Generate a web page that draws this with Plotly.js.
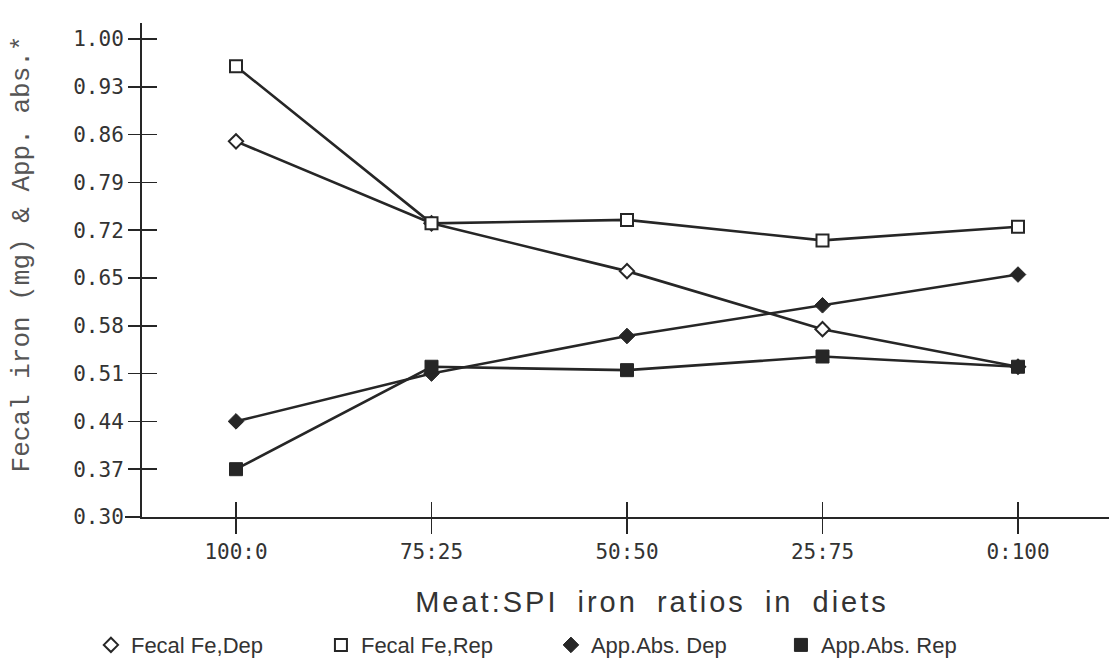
<!DOCTYPE html>
<html><head><meta charset="utf-8">
<script src="https://cdn.plot.ly/plotly-3.0.1.min.js"></script>
<style>html,body{margin:0;padding:0;background:#fff;}#chart{width:1109px;height:663px;}</style>
</head><body><div id="chart"></div>
<script>
// Categories (x axis)
const ratios = ['100:0', '75:25', '50:50', '25:75', '0:100'];
// Series values
const fecalDep  = [0.85, 0.73, 0.66, 0.575, 0.52];
const fecalRep  = [0.96, 0.73, 0.735, 0.705, 0.725];
const appAbsDep = [0.44, 0.51, 0.565, 0.61, 0.655];
const appAbsRep = [0.37, 0.52, 0.515, 0.535, 0.52];
const seriesNames = ['Fecal Fe,Dep', 'Fecal Fe,Rep', 'App.Abs. Dep', 'App.Abs. Rep'];
// Y tick labels
const yTickVals = [0.30, 0.37, 0.44, 0.51, 0.58, 0.65, 0.72, 0.79, 0.86, 0.93, 1.00];
const yTickText = ['0.30', '0.37', '0.44', '0.51', '0.58', '0.65', '0.72', '0.79', '0.86', '0.93', '1.00'];
const xTitle = 'Meat:SPI iron ratios in diets';
const yTitle = 'Fecal iron (mg) & App. abs.*';

const ink = '#262626';
const seriesData = [fecalDep, fecalRep, appAbsDep, appAbsRep];
const markerStyles = [
  {symbol: 'diamond', size: 11, color: '#ffffff', line: {color: ink, width: 2}},
  {symbol: 'square', size: 12, color: '#ffffff', line: {color: ink, width: 2}},
  {symbol: 'diamond', size: 12, color: ink, line: {color: ink, width: 1}},
  {symbol: 'square', size: 13, color: ink, line: {color: ink, width: 1}}
];

const traces = [];
seriesData.forEach((vals, i) => {
  traces.push({
    x: ratios, y: vals, type: 'scatter', mode: 'lines',
    line: {color: ink, width: 2.6}, showlegend: false, hoverinfo: 'skip',
    xaxis: 'x', yaxis: 'y'
  });
});
seriesData.forEach((vals, i) => {
  traces.push({
    x: ratios, y: vals, type: 'scatter', mode: 'markers', name: seriesNames[i],
    marker: markerStyles[i], xaxis: 'x2', yaxis: 'y2'
  });
});

const W = 1109, H = 663;
const mL = 142, mR = 0, mT = 23, mB = 146;
const plotW = W - mL - mR;
const xRange = [-0.4808, 4.4655];
const yRange = [0.30, 1.0233];

const layout = {
  width: W, height: H,
  margin: {l: mL, r: mR, t: mT, b: mB, pad: 0, autoexpand: false},
  paper_bgcolor: '#ffffff', plot_bgcolor: '#ffffff',
  showlegend: true,
  xaxis: {
    type: 'category', categoryorder: 'array', categoryarray: ratios,
    range: xRange, domain: [0, 1], anchor: 'y',
    showline: true, linecolor: ink, linewidth: 2,
    ticks: 'outside', ticklen: 15, tickwidth: 1.6, tickcolor: ink,
    showgrid: false, zeroline: false,
    tickfont: {family: 'DejaVu Sans Mono', size: 21, color: '#333333'},
    ticklabelstandoff: 0,
    title: {text: xTitle, font: {family: 'Liberation Sans', size: 29, color: '#333333'}, standoff: 28}
  },
  yaxis: {
    range: yRange, anchor: 'x',
    tickmode: 'array', tickvals: yTickVals, ticktext: yTickText,
    showline: true, linecolor: ink, linewidth: 2,
    ticks: 'outside', ticklen: 12, tickwidth: 1.6, tickcolor: ink,
    showgrid: false, zeroline: false,
    tickfont: {family: 'DejaVu Sans Mono', size: 21, color: '#333333'},
    title: {text: yTitle, font: {family: 'Liberation Mono', size: 26, color: '#555555'}, standoff: 36}
  },
  xaxis2: {
    type: 'category', categoryorder: 'array', categoryarray: ratios,
    range: xRange, overlaying: 'x', anchor: 'y2', side: 'bottom',
    showline: false, showticklabels: false,
    ticks: 'inside', ticklen: 15, tickwidth: 1.6, tickcolor: ink,
    showgrid: false, zeroline: false
  },
  yaxis2: {
    range: yRange, overlaying: 'y', anchor: 'x2', side: 'left',
    tickmode: 'array', tickvals: yTickVals,
    showline: false, showticklabels: false,
    ticks: 'inside', ticklen: 15, tickwidth: 1.6, tickcolor: ink,
    showgrid: false, zeroline: false
  },
  shapes: [{
    type: 'line', xref: 'paper', yref: 'paper',
    x0: -17 / plotW, x1: 0, y0: 0, y1: 0,
    line: {color: ink, width: 2}
  }],
  legend: {
    orientation: 'h', xref: 'container', yref: 'container',
    x: 0.082, xanchor: 'left', y: 0.027, yanchor: 'middle',
    font: {family: 'Liberation Sans', size: 22, color: '#333333'},
    entrywidth: 185, entrywidthmode: 'pixels',
    bgcolor: 'rgba(0,0,0,0)', borderwidth: 0, traceorder: 'normal'
  }
};

Plotly.newPlot('chart', traces, layout, {displayModeBar: false, staticPlot: true}).then(function (gd) {
  // spread the x title like the typeset original
  const t = gd.querySelector('.g-xtitle text');
  if (t) {
    t.style.letterSpacing = '3px';
    t.style.wordSpacing = '8px';
    t.setAttribute('x', 652);
  }
  // the original's y title sits a little higher than the plot centre
  const yt = gd.querySelector('.g-ytitle');
  if (yt) yt.setAttribute('transform', 'translate(0,-16)');
});
</script>
</body></html>
